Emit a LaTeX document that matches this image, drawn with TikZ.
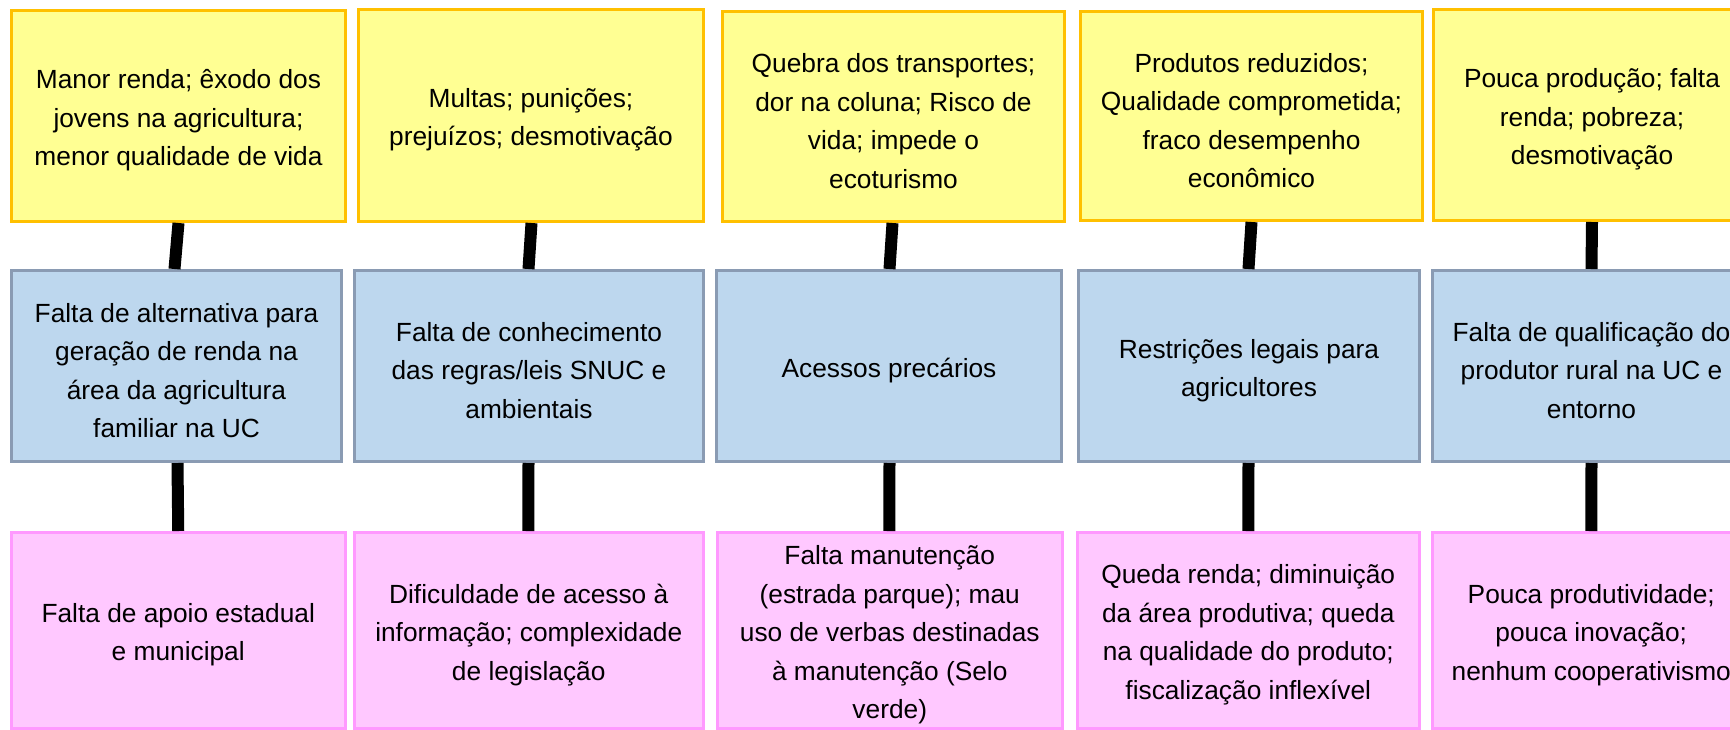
\documentclass[tikz,border=0pt]{standalone}
\usepackage{fontspec}
\setmainfont{Liberation Sans}
\definecolor{yfill}{HTML}{FFFF93}
\definecolor{ydraw}{HTML}{FFC000}
\definecolor{bfill}{HTML}{BDD7EE}
\definecolor{bdraw}{HTML}{8A9BB3}
\definecolor{pfill}{HTML}{FFC8FF}
\definecolor{pdraw}{HTML}{FF99FF}
\tikzset{
  box/.style={rectangle, anchor=north west, inner sep=0pt},
  ybox/.style={box, fill=yfill, draw=ydraw, line width=3pt},
  bbox/.style={box, fill=bfill, draw=bdraw, line width=3pt},
  pbox/.style={box, fill=pfill, draw=pdraw, line width=2.5pt},
  txt/.style={inner sep=0pt, align=center,
    font=\fontsize{26.3pt}{38.5pt}\selectfont},
  conn/.style={line width=12pt, black},
}
\newcommand{\bx}[7]{% style, name, x0, y0, x1, y1, text
  \node[#1, minimum width={(#5-#3)*1pt}, minimum height={(#6-#4)*1pt}] (#2) at (#3,#4) {};
  \node[txt] (#2t) at ([yshift=-4.5pt]#2.center) {#7};}
\begin{document}
\begin{tikzpicture}[x=1pt,y=-1pt]
\useasboundingbox (0,0) rectangle (1730,729);
\fill[white] (0,0) rectangle (1730,729);
% column 1
\bx{ybox}{y1}{10}{9}{344}{220}{Manor renda; êxodo dos\\jovens na agricultura;\\menor qualidade de vida}
\bx{bbox}{b1}{10}{269}{340}{460}{Falta de alternativa para\\geração de renda na\\área da agricultura\\familiar na UC}
\bx{pbox}{p1}{10}{531}{344}{727}{Falta de apoio estadual\\e municipal}
% column 2
\bx{ybox}{y2}{357}{8}{702}{220}{Multas; punições;\\prejuízos; desmotivação}
\bx{bbox}{b2}{353}{269}{702}{460}{Falta de conhecimento\\das regras/leis SNUC e\\ambientais}
\bx{pbox}{p2}{353}{531}{702}{727}{Dificuldade de acesso à\\informação; complexidade\\de legislação}
% column 3
\bx{ybox}{y3}{721}{10}{1063}{220}{Quebra dos transportes;\\dor na coluna; Risco de\\vida; impede o\\ecoturismo}
\bx{bbox}{b3}{715}{269}{1060}{460}{Acessos precários}
\bx{pbox}{p3}{716}{531}{1061}{727}{Falta manutenção\\(estrada parque); mau\\uso de verbas destinadas\\à manutenção (Selo\\verde)}
% column 4
\bx{ybox}{y4}{1079}{10}{1421}{219}{Produtos reduzidos;\\Qualidade comprometida;\\fraco desempenho\\econômico}
\bx{bbox}{b4}{1077}{269}{1418}{460}{Restrições legais para\\agricultores}
\bx{pbox}{p4}{1076}{531}{1418}{727}{Queda renda; diminuição\\da área produtiva; queda\\na qualidade do produto;\\fiscalização inflexível}
% column 5
\bx{ybox}{y5}{1432}{8}{1749}{219}{Pouca produção; falta\\renda; pobreza;\\desmotivação}
\bx{bbox}{b5}{1431}{269}{1749}{460}{Falta de qualificação do\\produtor rural na UC e\\entorno}
\bx{pbox}{p5}{1431}{531}{1749}{727}{Pouca produtividade;\\pouca inovação;\\nenhum cooperativismo}
% connectors
\draw[conn] ([xshift=0pt]y1.south) -- ([xshift=-2pt]b1.north);
\draw[conn] ([xshift=1pt]b1.south) -- ([xshift=0pt]p1.north);
\draw[conn] ([xshift=0.5pt]y2.south) -- ([xshift=-0.5pt]b2.north);
\draw[conn] ([xshift=-0.5pt]b2.south) -- ([xshift=-0.5pt]p2.north);
\draw[conn] ([xshift=-1pt]y3.south) -- ([xshift=0.5pt]b3.north);
\draw[conn] ([xshift=0.5pt]b3.south) -- ([xshift=-0.5pt]p3.north);
\draw[conn] (y4.south) -- ([xshift=-0.5pt]b4.north);
\draw[conn] ([xshift=-0.5pt]b4.south) -- ([xshift=0pt]p4.north);
\draw[conn] ([xshift=0pt]y5.south) -- ([xshift=0pt]b5.north);
\draw[conn] ([xshift=0pt]b5.south) -- ([xshift=0pt]p5.north);
\end{tikzpicture}
\end{document}
